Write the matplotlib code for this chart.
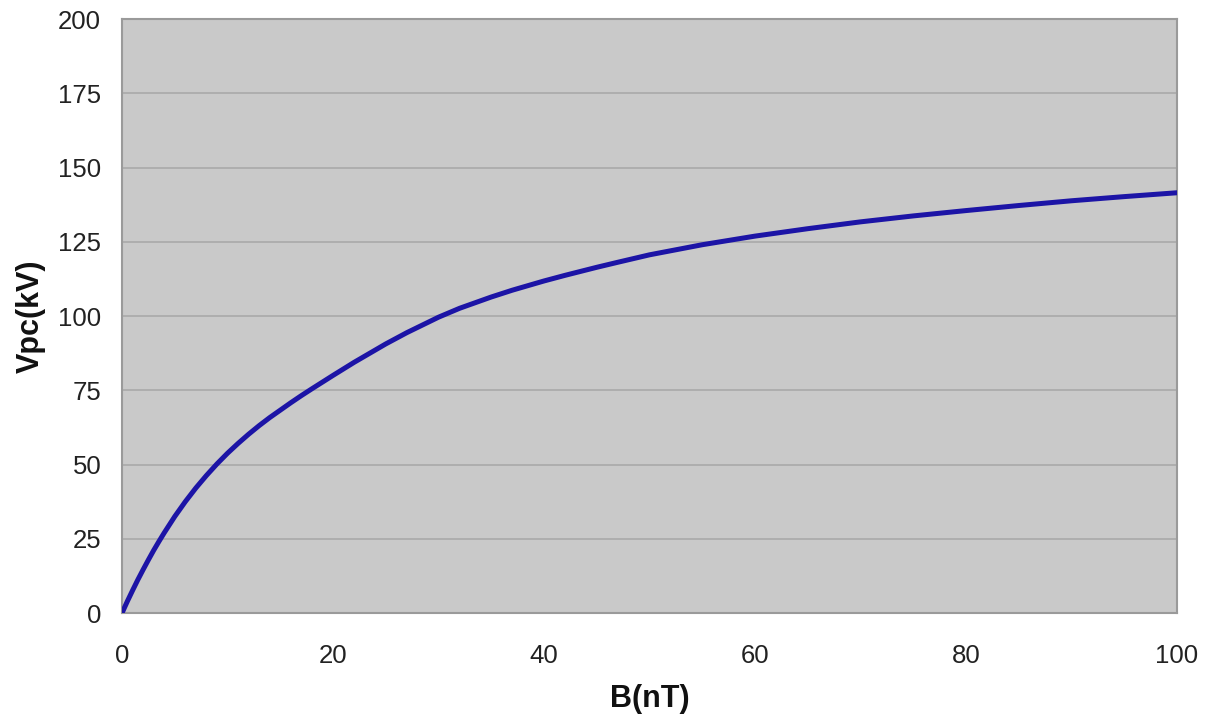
import matplotlib
matplotlib.use("Agg")
import matplotlib.pyplot as plt

B_nT = [0, 0.5, 1, 1.5, 2, 2.5, 3, 3.5, 4, 5, 6, 7, 8, 9, 10, 11, 12, 13, 14, 15,
        16, 17, 18, 20, 22, 25, 27, 30, 32, 35, 37, 40, 42, 45, 47, 50, 55, 60,
        65, 70, 75, 80, 85, 90, 95, 100]
Vpc_kV = [0, 3.9, 7.6, 11.2, 14.6, 17.9, 21.1, 24.1, 27.0, 32.5, 37.5, 42.1, 46.3,
          50.2, 53.8, 57.1, 60.2, 63.1, 65.8, 68.3, 70.8, 73.2, 75.5, 80.0, 84.4,
          90.6, 94.4, 99.6, 102.6, 106.4, 108.7, 111.8, 113.7, 116.4, 118.1, 120.6,
          124.0, 126.9, 129.4, 131.7, 133.7, 135.5, 137.2, 138.8, 140.2, 141.5]
x_ticks = [0, 20, 40, 60, 80, 100]
y_ticks = [0, 25, 50, 75, 100, 125, 150, 175, 200]

plt.rcParams['font.family'] = ['Liberation Sans', 'DejaVu Sans']

fig = plt.figure(figsize=(12.08, 7.17), dpi=100)
ax = fig.add_axes([0.101, 0.145, 0.8733, 0.8285])
ax.set_facecolor('#c9c9c9')

ax.plot(B_nT, Vpc_kV, color='#1c14a6', lw=3.6, solid_capstyle='round',
        solid_joinstyle='round', zorder=3)

ax.set_xlim(0, 100)
ax.set_ylim(0, 200)
ax.set_xticks(x_ticks)
ax.set_yticks(y_ticks)
ax.yaxis.grid(True, color='#a9a9a9', lw=1.2)
ax.set_axisbelow(True)
ax.tick_params(axis='both', length=0, labelsize=18.5, colors='#222222')
ax.tick_params(axis='x', pad=22)
ax.tick_params(axis='y', pad=15)
for s in ax.spines.values():
    s.set_color('#9a9a9a')
    s.set_linewidth(1.5)

ax.set_xlabel('B(nT)', fontsize=22, fontweight='bold', labelpad=12, color='#111111')
ax.set_ylabel('Vpc(kV)', fontsize=22, fontweight='bold', labelpad=9, color='#111111')

fig.savefig('out.png', dpi=100, facecolor='white')
